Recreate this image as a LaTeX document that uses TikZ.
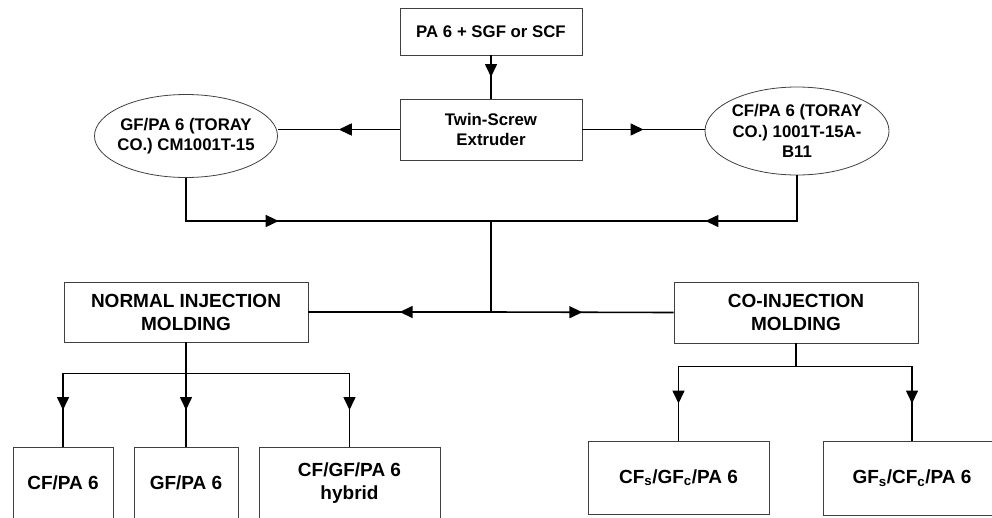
\documentclass[tikz,border=0pt]{standalone}
\usepackage{fontspec}
\setmainfont{Liberation Sans}
\usetikzlibrary{shapes.geometric,arrows.meta,decorations.markings}

\tikzset{
  box/.style={draw=black!75, line width=0.8pt, inner sep=2pt, align=center},
  oval/.style={ellipse, draw=black!75, line width=0.8pt, inner sep=0pt},
  txt/.style={font=\fontsize{16.8}{20.5}\selectfont\bfseries, align=center},
  bigtxt/.style={font=\fontsize{19}{23}\selectfont\bfseries},
  link/.style={line width=1.6pt},
  midtip/.style={link, postaction={decorate},
    decoration={markings, mark=at position #1 with {\arrow{Triangle[length=13pt,width=12pt]}}}},
  midtip/.default=0.5
}

\begin{document}
\begin{tikzpicture}[x=1pt,y=-1pt]
  \useasboundingbox (0,0) rectangle (992,517);
  \clip (0,0) rectangle (992,517);

  % compounding
  \node[box,txt,minimum width=182pt,minimum height=47pt] (feed) at (491,31.5) {PA 6 + SGF or SCF};
  \node[box,txt,minimum width=182pt,minimum height=61pt] (twin) at (491,129.5) {Twin-Screw\\Extruder};
  \node[oval,minimum width=183pt,minimum height=83pt] (gfpa) at (186,136) {};
  \node[txt] (gfpa-txt) at (gfpa) {GF/PA 6 (TORAY\\CO.) CM1001T-15};
  \node[oval,minimum width=184pt,minimum height=88pt] (cfpa) at (797,131) {};
  \node[txt] (cfpa-txt) at (cfpa) {CF/PA 6 (TORAY\\CO.) 1001T-15A-\\B11};

  % molding
  \node[box,bigtxt,minimum width=244pt,minimum height=60pt] (nim) at (186,312) {NORMAL INJECTION\\MOLDING};
  \node[box,bigtxt,minimum width=244pt,minimum height=61pt] (cim) at (796,312.5) {CO-INJECTION\\MOLDING};

  % specimens
  \node[box,bigtxt,minimum width=100pt,minimum height=72pt] (cf) at (63,483) {CF/PA 6};
  \node[box,bigtxt,minimum width=104pt,minimum height=72pt] (gf) at (186,483) {GF/PA 6};
  \node[box,bigtxt,minimum width=181pt,minimum height=72pt] (hyb) at (349.5,483) {CF/GF/PA 6\\hybrid};
  \node[box,bigtxt,minimum width=181pt,minimum height=73pt] (cfgf) at (678.5,477.5) {CF\textsubscript{s}/GF\textsubscript{c}/PA 6};
  \node[box,bigtxt,minimum width=178pt,minimum height=74pt] (gfcf) at (912,478) {GF\textsubscript{s}/CF\textsubscript{c}/PA 6};

  \coordinate (j1) at (491,221);
  \coordinate (j2) at (491,312);
  \coordinate (nsplit) at ([yshift=-31pt]nim.south);
  \coordinate (csplit) at ([yshift=-23pt]cim.south);

  \draw[midtip] (feed) -- (twin);
  \draw[midtip] (twin.west) -- (twin.west -| gfpa.east);
  \draw[midtip] (twin.east) -- (twin.east -| cfpa.west);
  \draw[midtip=0.39] (gfpa.south) |- (j1);
  \draw[midtip=0.39] (cfpa.south) |- (j1);
  \draw[link] (j1) -- (j2);
  \draw[midtip] (j2) -- (nim.east);
  \draw[midtip] (j2) -- (cim.west);

  \draw[link] (nim.south) -- (nsplit);
  \draw[link] (nsplit -| cf.north) -- (nsplit -| hyb.north);
  \draw[midtip] (nsplit -| cf.north) -- (cf.north);
  \draw[midtip] (nsplit) -- (gf.north);
  \draw[midtip] (nsplit -| hyb.north) -- (hyb.north);

  \draw[link] (cim.south) -- (csplit);
  \draw[link] (csplit -| cfgf.north) -- (csplit -| gfcf.north);
  \draw[midtip] (csplit -| cfgf.north) -- (cfgf.north);
  \draw[midtip] (csplit -| gfcf.north) -- (gfcf.north);
\end{tikzpicture}
\end{document}
